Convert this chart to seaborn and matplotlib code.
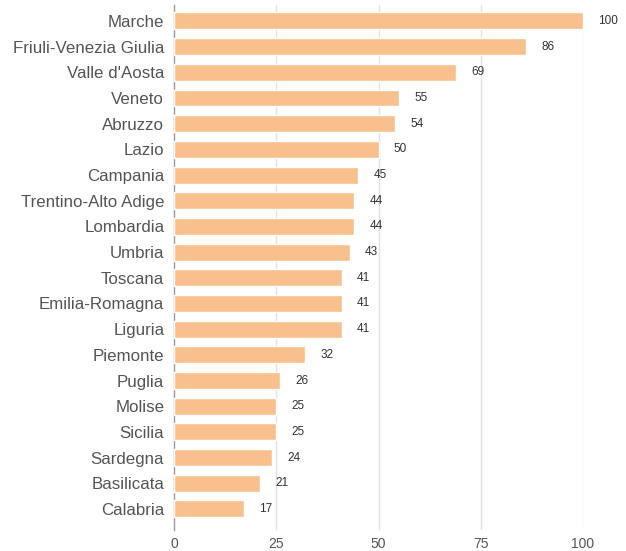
import matplotlib
matplotlib.use("Agg")
import matplotlib.pyplot as plt
import seaborn as sns
import pandas as pd

regions = ["Marche", "Friuli-Venezia Giulia", "Valle d'Aosta", "Veneto", "Abruzzo",
           "Lazio", "Campania", "Trentino-Alto Adige", "Lombardia", "Umbria",
           "Toscana", "Emilia-Romagna", "Liguria", "Piemonte", "Puglia",
           "Molise", "Sicilia", "Sardegna", "Basilicata", "Calabria"]
values = [100, 86, 69, 55, 54, 50, 45, 44, 44, 43, 41, 41, 41, 32, 26, 25, 25, 24, 21, 17]
x_ticks = [0, 25, 50, 75, 100]

df = pd.DataFrame({"region": regions, "value": values})

sns.set_theme(style="white")
plt.rcParams["font.family"] = ["Liberation Sans", "DejaVu Sans"]

fig = plt.figure(figsize=(6.26, 5.51), dpi=100)
ax = fig.add_axes([174 / 626, 1 - 530 / 551, (583 - 174) / 626, 525 / 551])

sns.barplot(data=df, x="value", y="region", orient="h", color="#F8C08C",
            saturation=1, width=0.66, ax=ax, zorder=3)

ax.set_xlim(0, 100)
ax.set_ylim(19.82, -0.62)
ax.set_xticks(x_ticks)
ax.set_xticklabels([str(t) for t in x_ticks])
ax.set_xlabel("")
ax.set_ylabel("")

for xv in x_ticks[1:]:
    ax.axvline(xv, color="#E2E2E2", lw=1, zorder=1)

for s in ["top", "right", "bottom"]:
    ax.spines[s].set_visible(False)
ax.spines["left"].set_color("#9A9A9A")
ax.spines["left"].set_linewidth(1)

ax.tick_params(axis="y", length=0, pad=7, labelsize=12.2, labelcolor="#555555")
ax.tick_params(axis="x", length=0, pad=5, labelsize=10, labelcolor="#555555")

for i, v in enumerate(values):
    ax.annotate(str(v), xy=(v, i), xytext=(11, 0), textcoords="offset points",
                ha="left", va="center", fontsize=8.5, color="#333333",
                annotation_clip=False)

fig.savefig("out.png", dpi=100)
